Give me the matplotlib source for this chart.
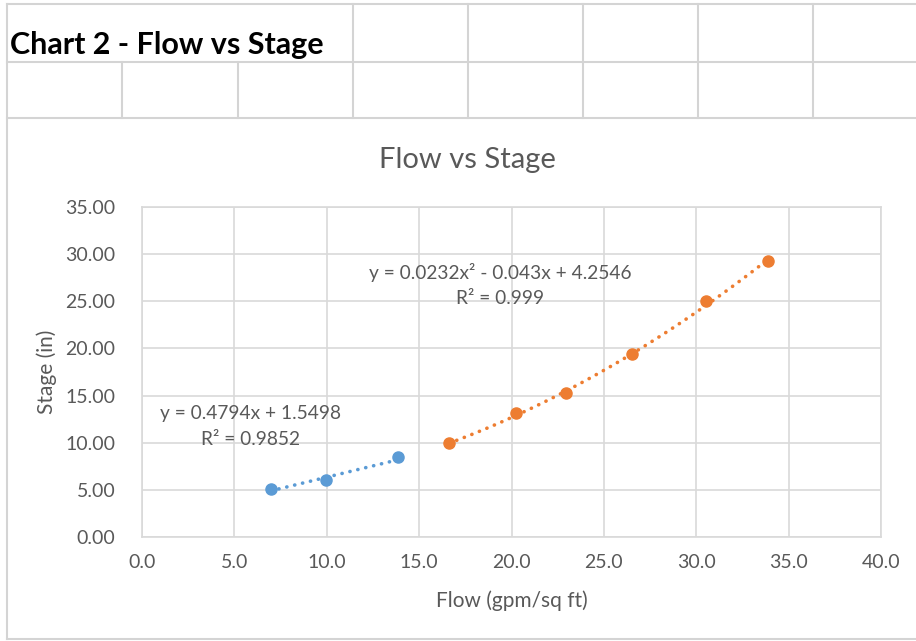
import matplotlib.pyplot as plt
import numpy as np
from matplotlib.lines import Line2D

plt.rcParams['font.family'] = ['Lato', 'DejaVu Sans']

# data
flow_low = [6.98, 9.96, 13.88]
stage_low = [5.09, 6.04, 8.48]
flow_high = [16.62, 20.24, 22.95, 26.50, 30.53, 33.88]
stage_high = [9.97, 13.14, 15.30, 19.40, 25.03, 29.30]

# trendline coefficients as printed on the chart
lin_coef = [0.4794, 1.5498]
poly_coef = [0.0232, -0.043, 4.2546]

blue = '#5B9BD5'
orange = '#ED7D31'
txt = '#595959'
grid_c = '#D9D9D9'

W, H = 916, 641
fig = plt.figure(figsize=(W / 100, H / 100), dpi=100)

# spreadsheet cell lines behind the chart
cell_c = '#D4D4D4'
def hline(y, x0, x1):
    fig.add_artist(Line2D([x0 / W, x1 / W], [1 - y / H, 1 - y / H], color=cell_c, lw=1.5))
def vline(x, y0, y1):
    fig.add_artist(Line2D([x / W, x / W], [1 - y0 / H, 1 - y1 / H], color=cell_c, lw=1.5))

hline(4, 7, W)
hline(62, 7, W)
hline(118, 7, W)
hline(639, 7, W)
vline(7, 4, 639)
for cx in [122, 238]:
    vline(cx, 62, 118)
for cx in [353, 468, 583, 698, 813]:
    vline(cx, 4, 118)

fig.text(10 / W, 1 - 45 / H, 'Chart 2 - Flow vs Stage', fontsize=22, fontweight='bold',
         color='black', va='center', ha='left')

# chart
ax = fig.add_axes([142 / W, 1 - 537 / H, (881 - 142) / W, (537 - 207) / H])
ax.set_xlim(0, 40)
ax.set_ylim(0, 35)
ax.set_xticks(np.arange(0, 40.1, 5))
ax.set_yticks(np.arange(0, 35.1, 5))
ax.set_xticklabels([f'{v:.1f}' for v in np.arange(0, 40.1, 5)])
ax.set_yticklabels([f'{v:.2f}' for v in np.arange(0, 35.1, 5)])
ax.grid(True, color=grid_c, lw=1.2)
ax.set_axisbelow(True)
for s in ax.spines.values():
    s.set_color(grid_c)
    s.set_linewidth(1.2)
ax.tick_params(length=0, labelsize=14, labelcolor=txt)
ax.tick_params(axis='y', pad=19)
ax.tick_params(axis='x', pad=12)

ax.set_xlabel('Flow (gpm/sq ft)', fontsize=15, color=txt, labelpad=14)
ax.set_ylabel('Stage (in)', fontsize=15, color=txt, labelpad=6)
fig.text(467 / W, 1 - 160 / H, 'Flow vs Stage', fontsize=21, color=txt,
         ha='center', va='center')

# trendlines
dots = (0, (0.05, 2.2))
xl = np.linspace(min(flow_low), max(flow_low), 50)
ax.plot(xl, np.polyval(lin_coef, xl), color=blue, lw=2.6, ls=dots,
        dash_capstyle='round')
xh = np.linspace(min(flow_high), max(flow_high), 100)
ax.plot(xh, np.polyval(poly_coef, xh), color=orange, lw=2.6, ls=dots,
        dash_capstyle='round')

ax.plot(flow_low, stage_low, 'o', color=blue, ms=8, zorder=3)
ax.plot(flow_high, stage_high, 'o', color=orange, ms=8, zorder=3)

ax.text(5.85, 13.15, 'y = 0.4794x + 1.5498', fontsize=13.8, color=txt, ha='center', va='center')
ax.text(5.85, 10.3, 'R² = 0.9852', fontsize=13.8, color=txt, ha='center', va='center')
ax.text(19.4, 28.1, 'y = 0.0232x² - 0.043x + 4.2546', fontsize=13.8, color=txt, ha='center', va='center')
ax.text(19.4, 25.25, 'R² = 0.999', fontsize=13.8, color=txt, ha='center', va='center')

fig.savefig('out.png', dpi=100)
